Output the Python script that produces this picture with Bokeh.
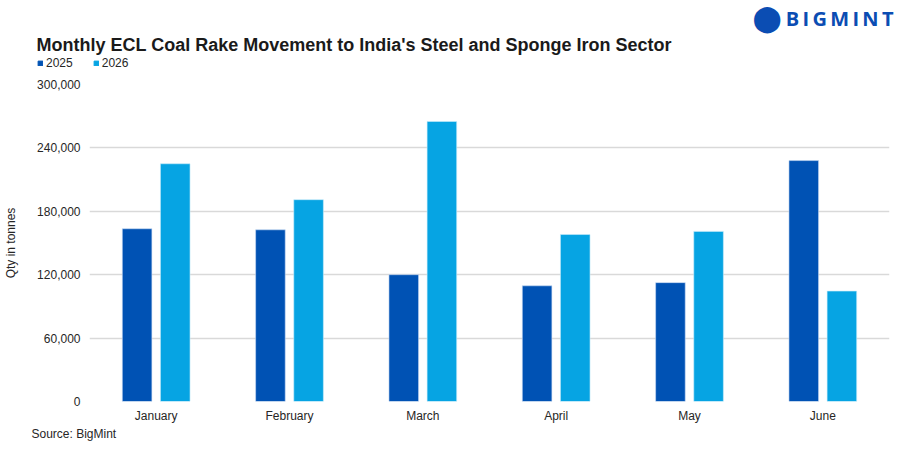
from bokeh.plotting import figure
from bokeh.layouts import column
from bokeh.models import (ColumnDataSource, FactorRange, Range1d, FixedTicker,
                          NumeralTickFormatter, Label, Legend, LegendItem)
from bokeh.transform import dodge
from bokeh.embed import file_html
from bokeh.resources import INLINE

months = ["January", "February", "March", "April", "May", "June"]
y2025 = [163500, 162500, 120000, 109500, 112500, 228000]
y2026 = [225000, 191000, 265000, 158000, 161000, 104500]
series_names = ["2025", "2026"]
y_ticks = [0, 60000, 120000, 180000, 240000, 300000]

C25 = "#0052B4"
C26 = "#06A4E3"
FONT = "Liberation Sans"
TXT = "#262626"


def no_align(f):
    try:
        f.frame_align = False
    except Exception:
        pass


def blank(h):
    f = figure(width=904, height=h, x_range=Range1d(0, 1), y_range=Range1d(0, 1),
               x_axis_type=None, y_axis_type=None, output_backend="svg",
               toolbar_location=None, min_border=0)
    f.outline_line_color = None
    f.xgrid.visible = False
    f.ygrid.visible = False
    no_align(f)
    return f


# ---------- header (title, legend, logo) ----------
head = blank(74)
proxy = ColumnDataSource(dict(x=[float("nan")], top=[float("nan")]))
h1 = head.vbar(x="x", top="top", width=1, source=proxy, fill_color=C25, line_color=C25)
h2 = head.vbar(x="x", top="top", width=1, source=proxy, fill_color=C26, line_color=C26)
legend = Legend(items=[LegendItem(label=series_names[0], renderers=[h1]),
                       LegendItem(label=series_names[1], renderers=[h2])],
                orientation="horizontal", location=(37, 4.5),
                glyph_width=6, glyph_height=6, label_text_font=FONT,
                label_text_font_size="12px", label_text_color=TXT,
                label_standoff=3, spacing=20, padding=0, margin=0,
                border_line_color=None, background_fill_alpha=0, label_height=14)
head.add_layout(legend, "center")

head.add_layout(Label(x=36, y=30, x_units="screen", y_units="screen",
                      text="Monthly ECL Coal Rake Movement to India's Steel and Sponge Iron Sector",
                      text_font=FONT, text_font_style="bold", text_font_size="18px",
                      text_color="#1a1a1a", text_baseline="alphabetic"))
head.add_layout(Label(x=752, y=57, x_units="screen", y_units="screen", text="\u2B24",
                      text_font="DejaVu Sans", text_font_size="26px", text_color="#0B4DB3",
                      text_baseline="middle"))
head.add_layout(Label(x=893, y=56, x_units="screen", y_units="screen",
                      text="B\u2009I\u2009G\u2009M\u2009I\u2009N\u2009T",
                      text_font="Open Sans", text_font_style="bold", text_font_size="20px",
                      text_color="#0B4DB3", text_align="right", text_baseline="middle"))

# ---------- main chart ----------
src = ColumnDataSource(dict(month=months, y2025=y2025, y2026=y2026))
p = figure(width=904, height=353, x_range=FactorRange(*months, range_padding=0),
           y_range=Range1d(0, 300000), output_backend="svg", toolbar_location=None,
           min_border_left=89, min_border_right=15, min_border_top=10, min_border_bottom=26)
p.outline_line_color = None
no_align(p)

p.vbar(x=dodge("month", -0.143, range=p.x_range), top="y2025", width=0.222, source=src,
       fill_color=C25, line_color="#c9dcf5", line_width=0.6)
p.vbar(x=dodge("month", 0.143, range=p.x_range), top="y2026", width=0.222, source=src,
       fill_color=C26, line_color="#c9ecfa", line_width=0.6)

p.xgrid.grid_line_color = None
p.ygrid.grid_line_color = "#d9d9d9"
p.ygrid.grid_line_width = 1.5
p.yaxis.ticker = FixedTicker(ticks=y_ticks)
p.yaxis.formatter = NumeralTickFormatter(format="0,0")
for ax in (p.xaxis[0], p.yaxis[0]):
    ax.axis_line_color = None
    ax.major_tick_line_color = None
    ax.minor_tick_line_color = None
    ax.major_tick_out = 0
    ax.major_tick_in = 0
    ax.minor_tick_out = 0
    ax.major_label_text_font = FONT
    ax.major_label_text_font_size = "12px"
    ax.major_label_text_color = TXT
p.yaxis.major_label_standoff = 9
p.xaxis.major_label_standoff = 7
p.yaxis.axis_label = "Qty in tonnes"
p.yaxis.axis_label_text_font = FONT
p.yaxis.axis_label_text_font_size = "12px"
p.yaxis.axis_label_text_font_style = "normal"
p.yaxis.axis_label_text_color = TXT
p.yaxis.axis_label_standoff = 16

# ---------- footer ----------
foot = blank(22)
foot.add_layout(Label(x=31, y=16, x_units="screen", y_units="screen", text="Source: BigMint",
                      text_font=FONT, text_font_size="12px", text_color=TXT,
                      text_baseline="middle"))

page = column(head, p, foot, spacing=0)
open("out.html", "w").write(file_html(page, INLINE))
